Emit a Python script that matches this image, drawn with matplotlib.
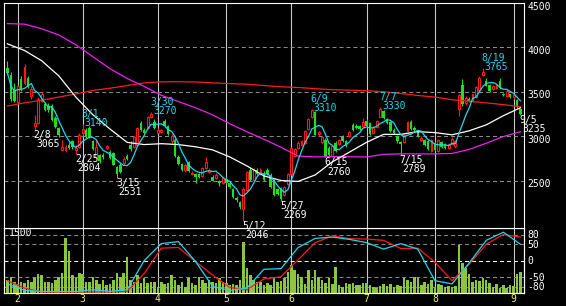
import numpy as np
import pandas as pd
import matplotlib
matplotlib.use("Agg")
import matplotlib.pyplot as plt
import matplotlib.transforms as mtransforms

# --- data -------------------------------------------------------------
holidays = ["2011-02-11", "2011-03-21", "2011-04-29", "2011-05-03",
            "2011-05-04", "2011-05-05", "2011-07-18"]
days = pd.bdate_range("2011-01-27", "2011-09-05")
days = days[~days.isin(pd.to_datetime(holidays))]

opens = [
    3770, 3690, 3520,
    3390, 3640, 3600, 3650, 3450, 3110, 3150, 3400, 3360, 3340, 3340, 3200, 3090, 2845, 2840, 2900, 2940, 2840, 2880,
    3030, 3070, 3090, 2940, 2760, 2790, 2790, 2870, 2820, 2810, 2650, 2680, 2700, 2780, 2900, 2880, 2900, 3150, 3070, 3090, 3220, 3160,
    3040, 3045, 3170, 3110, 2940, 2960, 2770, 2690, 2620, 2710, 2575, 2575, 2575, 2550, 2640, 2600, 2545, 2530, 2500, 2470,
    2520, 2470, 2400, 2300, 2260, 2180, 2390, 2620, 2510, 2620, 2570, 2590, 2620, 2560, 2510, 2400, 2420, 2340, 2460,
    2570, 2780, 2870, 2900, 2920, 3080, 3210, 3270, 3020, 2930, 2960, 2870, 2780, 2920, 2910, 2990, 2950, 3000, 3130, 3110, 3110, 3110,
    3170, 3150, 3040, 3100, 3220, 3280, 3190, 3160, 3070, 3000, 2935, 2930, 3060, 3160, 3090, 3060, 2960, 2960, 2950, 2830,
    2920, 2830, 2930, 2910, 2870, 2910, 2890, 3310, 3580, 3370, 3420, 3400, 3440, 3520, 3690, 3620, 3580, 3530, 3540, 3620, 3480, 3450, 3470,
    3440, 3410, 3310,
]
highs = [
    3850, 3720, 3600,
    3580, 3680, 3810, 3680, 3560, 3240, 3440, 3500, 3390, 3370, 3360, 3230, 3100, 2960, 2900, 2930, 2960, 2900, 3030,
    3140, 3090, 3110, 2960, 2960, 2800, 2810, 2900, 2840, 2820, 2660, 2700, 2770, 2800, 2950, 3000, 3100, 3170, 3090, 3230, 3270, 3190,
    3090, 3080, 3190, 3120, 3020, 2980, 2790, 2700, 2700, 2720, 2610, 2590, 2590, 2650, 2760, 2640, 2560, 2580, 2510, 2540,
    2540, 2480, 2420, 2320, 2270, 2430, 2610, 2650, 2640, 2640, 2640, 2610, 2640, 2580, 2520, 2420, 2430, 2440, 2580,
    2880, 2870, 2940, 2960, 3070, 3200, 3310, 3280, 3060, 3000, 2980, 2890, 2900, 2940, 2970, 3010, 2960, 3060, 3150, 3140, 3120, 3200,
    3190, 3160, 3110, 3180, 3330, 3290, 3200, 3170, 3090, 3010, 2950, 3020, 3170, 3180, 3110, 3070, 3000, 2970, 2960, 2970,
    2940, 2970, 2940, 2920, 2920, 2990, 2960, 3480, 3640, 3450, 3440, 3480, 3560, 3680, 3765, 3650, 3590, 3580, 3590, 3650, 3490, 3520, 3480,
    3470, 3420, 3320,
]
lows = [
    3700, 3400, 3380,
    3370, 3510, 3580, 3540, 3420, 3065, 3140, 3380, 3280, 3270, 3170, 3090, 2990, 2830, 2820, 2850, 2860, 2804, 2870,
    3010, 2980, 2980, 2840, 2740, 2700, 2740, 2850, 2740, 2670, 2531, 2580, 2680, 2730, 2830, 2870, 2890, 3060, 3030, 3080, 3200, 3080,
    3030, 3030, 3100, 3010, 2920, 2760, 2670, 2610, 2600, 2600, 2560, 2470, 2530, 2540, 2630, 2580, 2490, 2520, 2440, 2460,
    2460, 2420, 2300, 2260, 2180, 2046, 2380, 2500, 2500, 2560, 2560, 2500, 2560, 2420, 2330, 2340, 2269, 2320, 2450,
    2560, 2770, 2850, 2890, 2910, 3070, 3200, 3010, 3000, 2910, 2760, 2780, 2770, 2820, 2900, 2930, 2880, 2990, 3060, 3080, 3070, 3100,
    3100, 3010, 3030, 3090, 3210, 3190, 3140, 3050, 3020, 2920, 2789, 2920, 3050, 3070, 3060, 2990, 2950, 2890, 2840, 2820,
    2830, 2820, 2870, 2860, 2860, 2900, 2870, 3230, 3340, 3350, 3380, 3390, 3430, 3510, 3680, 3560, 3500, 3520, 3530, 3530, 3450, 3440, 3430,
    3420, 3320, 3235,
]
closes = [
    3715, 3420, 3400,
    3560, 3530, 3780, 3560, 3530, 3150, 3420, 3470, 3300, 3290, 3180, 3105, 3010, 2880, 2875, 2865, 2880, 2870, 3010,
    3080, 2995, 2990, 2850, 2880, 2720, 2760, 2885, 2755, 2680, 2570, 2600, 2745, 2745, 2850, 2990, 3090, 3070, 3040, 3220, 3250, 3090,
    3070, 3065, 3110, 3020, 3005, 2775, 2685, 2620, 2680, 2610, 2590, 2540, 2545, 2640, 2710, 2615, 2500, 2560, 2470, 2530,
    2470, 2430, 2310, 2280, 2200, 2410, 2600, 2510, 2620, 2570, 2620, 2510, 2575, 2430, 2340, 2350, 2290, 2430, 2570,
    2870, 2850, 2920, 2945, 3060, 3190, 3290, 3015, 3045, 2985, 2770, 2790, 2890, 2830, 2960, 2940, 2895, 3050, 3070, 3095, 3080, 3160,
    3110, 3020, 3100, 3170, 3310, 3200, 3150, 3060, 3030, 2940, 2915, 3010, 3160, 3080, 3070, 3000, 2975, 2900, 2860, 2960,
    2840, 2960, 2880, 2870, 2910, 2970, 2940, 3460, 3360, 3430, 3395, 3470, 3550, 3660, 3720, 3570, 3510, 3560, 3570, 3540, 3460, 3510, 3440,
    3460, 3330, 3250,
]
volume = [
    300, 377, 262, 200, 246, 223, 300, 262, 338, 430, 415, 262, 246, 223, 300, 377, 454, 1261, 969, 415,
    338, 454, 430, 262, 246, 377, 300, 200, 300, 185, 200, 300, 454, 377, 454, 838, 300, 262, 415, 223,
    338, 223, 246, 262, 146, 262, 200, 223, 415, 300, 185, 262, 146, 338, 223, 185, 377, 300, 223, 300,
    262, 223, 338, 262, 223, 185, 200, 185, 300, 1169, 569, 415, 300, 262, 262, 185, 223, 185, 338, 246,
    277, 338, 492, 646, 530, 430, 377, 200, 530, 300, 530, 377, 300, 223, 338, 200, 607, 185, 146, 223,
    200, 223, 185, 185, 223, 223, 185, 146, 108, 169, 200, 169, 200, 146, 185, 169, 338, 300, 246, 377,
    338, 185, 246, 200, 300, 146, 200, 185, 146, 169, 146, 169, 1107, 684, 569, 430, 246, 300, 277, 338,
    300, 223, 146, 200, 108, 185, 123, 185, 169, 430, 492,
]

# longer averages and the oscillators, read every 5 trading days
step = 5
ma_white = [4040, 3965, 3850, 3680, 3440, 3240, 3080, 2930, 2905, 2915, 2905, 2880, 2845, 2766, 2665, 2552,
            2500, 2490, 2563, 2710, 2820, 2930, 3020, 3020, 3050, 3040, 3015, 3060, 3127, 3230, 3320]
ma_magenta = [4268, 4262, 4210, 4140, 4030, 3895, 3760, 3650, 3560, 3460, 3390, 3320, 3240, 3140, 3050, 2965,
              2875, 2775, 2766, 2770, 2768, 2765, 2795, 2800, 2800, 2800, 2805, 2850, 2920, 2995, 3050]
ma_red = [3340, 3375, 3405, 3440, 3475, 3515, 3540, 3570, 3600, 3612, 3613, 3610, 3600, 3592, 3585, 3570,
          3556, 3548, 3535, 3523, 3518, 3512, 3500, 3480, 3458, 3440, 3410, 3393, 3375, 3355, 3332]
osc_fast = [-72, -92, -95, -95, -95, -90, -95, -90, 0, 52, 58, -3, -80, -92, -85, -27,
            -25, 40, 68, 72, 65, 55, 35, 52, 35, -62, -72, -8, 62, 87, 50]
osc_slow = [-62, -85, -97, -97, -97, -97, -97, -95, -40, 38, 40, -3, -45, -83, -90, -57,
            -50, 2, 55, 76, 67, 66, 62, 37, 38, -5, -62, -12, 50, 80, 72]

label_dates = ["2011-02-08", "2011-02-25", "2011-03-01", "2011-03-15", "2011-03-30", "2011-05-12", "2011-05-27",
               "2011-06-09", "2011-06-15", "2011-07-07", "2011-07-15", "2011-08-19", "2011-09-05"]
label_values = [3065, 2804, 3140, 2531, 3270, 2046, 2269, 3310, 2760, 3330, 2789, 3765, 3235]
label_kind = ["low", "low", "high", "low", "high", "low", "low", "high", "low", "high", "low", "high", "low"]

price_ticks = [2500, 3000, 3500, 4000, 4500]
osc_ticks = [80, 50, 0, -50, -80]
month_names = ["2", "3", "4", "5", "6", "7", "8", "9"]

# --- style ------------------------------------------------------------
RED = "#ff1a1a"
GREEN = "#1fe01f"
VOL = "#8cc63f"
CYAN = "#22d8ee"
MAGENTA = "#ee22ee"
GRAY = "#8a8a8a"
VGRID = "#c8c8c8"
YELLOW = "#f2f27a"
FONT = "DejaVu Sans Mono"
FS = 7
DASH = (0, (3.8, 2.9))

x = np.arange(len(days))
o = np.array(opens)
h = np.array(highs)
l = np.array(lows)
c = np.array(closes)
up = c >= o
dn = ~up
ma_x = np.arange(0, len(days), step)
ma_fast = pd.Series(closes).rolling(5, min_periods=1).mean()
month_first = [np.where(days.month == m)[0][0] for m in range(2, 10)]

fig = plt.figure(figsize=(5.66, 3.06), dpi=100, facecolor="black")
ax = fig.add_axes([4 / 566, 78 / 306, 520 / 566, 225 / 306])
axv = fig.add_axes([4 / 566, 13 / 306, 520 / 566, 65 / 306], sharex=ax)
axo = axv.twinx()
ax.set_zorder(5)

for a in (ax, axv):
    a.set_facecolor("black")
for a in (ax, axv, axo):
    for s in a.spines.values():
        s.set_color("white")
        s.set_linewidth(0.8)

# grid
for m in month_first:
    ax.axvline(m, color=VGRID, lw=0.8, zorder=1)
    axv.axvline(m, color=VGRID, lw=0.8, zorder=1)
for p in price_ticks[:-1]:
    ax.axhline(p, color=GRAY, lw=0.75, ls=DASH, zorder=1)
trans = mtransforms.blended_transform_factory(axv.transAxes, axo.transData)
for v in osc_ticks:
    col = "white" if v == 0 else GRAY
    axv.plot([0, 1], [v, v], transform=trans, color=col, lw=0.75, ls=DASH, zorder=1)

# candles
ax.vlines(x[dn], l[dn], h[dn], color=GREEN, lw=0.8, zorder=3)
ax.vlines(x[up], l[up], o[up], color=RED, lw=0.8, zorder=3)
ax.vlines(x[up], c[up], h[up], color=RED, lw=0.8, zorder=3)
ax.bar(x[dn], o[dn] - c[dn], bottom=c[dn], width=0.75, color=GREEN, lw=0, zorder=4)
ax.bar(x[up], np.maximum(c[up] - o[up], 8), bottom=o[up], width=0.55,
       facecolor="black", edgecolor=RED, lw=0.8, zorder=4)

# moving averages
ax.plot(ma_x, ma_red, color=RED, lw=0.9, zorder=5)
ax.plot(ma_x, ma_magenta, color=MAGENTA, lw=0.9, zorder=5)
ax.plot(ma_x, ma_white, color="white", lw=0.9, zorder=5)
ax.plot(x, ma_fast, color=CYAN, lw=0.9, zorder=6)

# high / low labels
for d, v, k in zip(label_dates, label_values, label_kind):
    i = days.get_loc(pd.Timestamp(d))
    ts = pd.Timestamp(d)
    date_txt = f"{ts.month}/{ts.day}"
    if k == "high":
        col, dy1, dy2 = CYAN, 5.0, -1.4
    else:
        col, dy1, dy2 = "white", -5.8, -12.3
    ax.annotate(date_txt, xy=(i, v), xytext=(-0.7, dy1), textcoords="offset points",
                ha="left", va="baseline", color=col, fontsize=FS, family=FONT,
                annotation_clip=False, zorder=8)
    ax.annotate(str(v), xy=(i, v), xytext=(1.4, dy2), textcoords="offset points",
                ha="left", va="baseline", color=col, fontsize=FS, family=FONT,
                annotation_clip=False, zorder=8)

ax.set_xlim(-1.0, 151.05)
ax.set_ylim(1965, 4500)
ax.yaxis.tick_right()
ax.set_yticks(price_ticks)
ax.set_yticklabels([str(p) for p in price_ticks], family=FONT)
ax.tick_params(axis="y", length=0, pad=2.2, labelcolor="white", labelsize=FS)
ax.tick_params(axis="x", length=0, labelbottom=False)
# price labels sit a little below their grid lines
shift = mtransforms.ScaledTranslation(0, -2.5 / 100, fig.dpi_scale_trans)
for lab in ax.get_yticklabels():
    lab.set_transform(lab.get_transform() + shift)

# volume and oscillators
axv.bar(x, volume, width=0.75, color=VOL, lw=0, zorder=2)
axv.set_ylim(0, 1500)
axv.set_yticks([])
axv.text(0.009, 1.0, "1500", transform=axv.transAxes, ha="left", va="top",
         color="white", fontsize=FS, family=FONT)
axv.set_xticks(month_first)
axv.set_xticklabels(month_names, family=FONT)
axv.tick_params(axis="x", length=0, pad=0.5, labelcolor=YELLOW, labelsize=FS)

axo.plot(ma_x, osc_slow, color=RED, lw=0.9, zorder=3)
axo.plot(ma_x, osc_fast, color=CYAN, lw=0.9, zorder=4)
axo.set_ylim(-100, 100)
axo.set_yticks(osc_ticks)
axo.set_yticklabels([str(t) for t in osc_ticks], family=FONT)
axo.tick_params(axis="y", length=0, pad=2.2, labelcolor="white", labelsize=FS)

fig.savefig("out.png", dpi=100, facecolor="black")
